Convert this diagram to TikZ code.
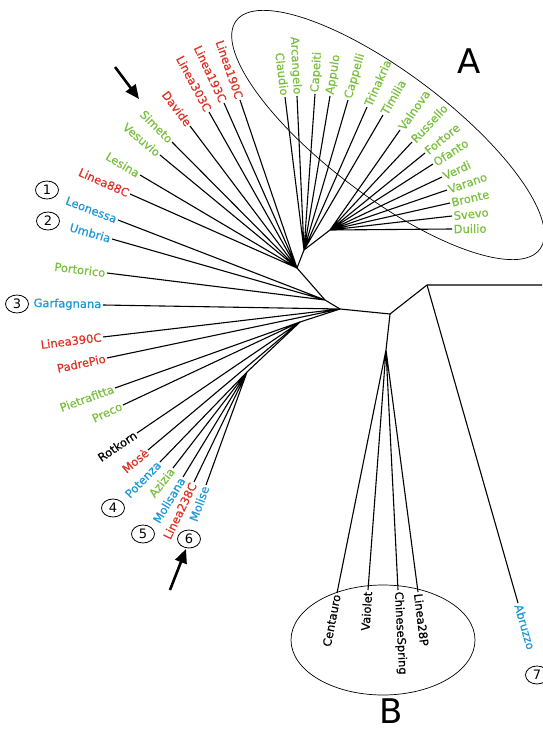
\documentclass[tikz,border=0pt]{standalone}
\usepackage{fontspec}
\setmainfont{DejaVu Sans}
\newfontfamily\leaffont[FakeBold=0.6]{DejaVu Sans}
\usetikzlibrary{arrows.meta,shapes.geometric}
\definecolor{lgreen}{RGB}{122,192,62}
\definecolor{lred}{RGB}{222,50,38}
\definecolor{lblue}{RGB}{28,152,214}
\tikzset{edge/.style={line width=1.1pt},
    lblL/.style={anchor=east,inner sep=1.5pt,font=\leaffont\fontsize{11.5}{12}\selectfont},
    lblR/.style={anchor=west,inner sep=1.5pt,font=\leaffont\fontsize{11.5}{12}\selectfont},
    num/.style={ellipse,draw,line width=0.8pt,minimum width=23pt,minimum height=18pt,inner sep=0pt,font=\fontsize{13}{13}\selectfont},
    grp/.style={ellipse,draw,line width=0.7pt,inner sep=0pt},
    big/.style={font=\fontsize{34}{34}\selectfont},
    pointer/.style={-{Triangle[length=14pt,width=12pt]},line width=2.6pt}}

\begin{document}
\begin{tikzpicture}[x=1pt,y=-1pt]
        \useasboundingbox (0,0) rectangle (542,733);
        % groups
        \node[grp,minimum width=380pt,minimum height=124pt,rotate=-37] (grpA) at (388,135) {};
        \node[grp,minimum width=184pt,minimum height=110pt] (grpB) at (383,640) {};
        \node[big] (labA) at (469,61) {A};
        \node[big] (labB) at (391,711) {B};
        % inner nodes
        \coordinate (n0) at (340,309);
        \coordinate (n1) at (390,314);
        \coordinate (n2) at (427,285);
        \coordinate (rgt) at (542,285);
        \coordinate (hb) at (386,350);
        \coordinate (l1) at (325,300);
        \coordinate (l2) at (297,268);
        \coordinate (a1) at (304,250);
        \coordinate (a2) at (330,230);
        \coordinate (d1) at (300,322);
        \coordinate (d2) at (247,372);
        % left leaves
        \node[lblL,rotate=-71,lred] (l190) at (240,100) {Linea190C};
        \node[lblL,rotate=-65,lred] (l193) at (224,103) {Linea193C};
        \node[lblL,rotate=-62,lred] (l303) at (209,112) {Linea303C};
        \node[lblL,rotate=-53,lred] (dav) at (190,126) {Davide};
        \node[lblL,rotate=-45,lgreen] (sim) at (172,142) {Simeto};
        \node[lblL,rotate=-40,lgreen] (ves) at (160,155) {Vesuvio};
        \node[lblL,rotate=-31,lgreen] (les) at (140,175) {Lesina};
        \node[lblL,rotate=-24,lred] (l88) at (130,194) {Linea88C};
        \node[lblL,rotate=-21,lblue] (leo) at (118,220) {Leonessa};
        \node[lblL,rotate=-16,lblue] (umb) at (112,239) {Umbria};
        \node[lblL,rotate=-7,lgreen] (por) at (107,273) {Portorico};
        \node[lblL,rotate=-1,lblue] (gar) at (103,305) {Garfagnana};
        \node[lblL,rotate=7,lred] (l390) at (103,337) {Linea390C};
        \node[lblL,rotate=12,lred] (pad) at (107,358) {PadrePio};
        \node[lblL,rotate=20,lgreen] (pie) at (115,388) {Pietrafitta};
        \node[lblL,rotate=25,lgreen] (pre) at (123,405) {Preco};
        \node[lblL,rotate=34] (rot) at (137,433) {Rotkorn};
        \node[lblL,rotate=40,lred] (mos) at (148,450) {Mosè};
        \node[lblL,rotate=46,lblue] (pot) at (160,462) {Potenza};
        \node[lblL,rotate=52,lgreen] (azi) at (173,468) {Azizia};
        \node[lblL,rotate=59,lblue] (mna) at (183,477) {Molisana};
        \node[lblL,rotate=64,lred] (l238) at (194,482) {Linea238C};
        \node[lblL,rotate=70,lblue] (mol) at (206,485) {Molise};
        % group A leaves
        \node[lblL,rotate=-83,lgreen] (cla) at (285,97) {Claudio};
        \node[lblL,rotate=-87,lgreen] (arc) at (297,96) {Arcangelo};
        \node[lblR,rotate=86,lgreen] (cap) at (315,94) {Capeiti};
        \node[lblR,rotate=81,lgreen] (app) at (330,96) {Appulo};
        \node[lblR,rotate=74,lgreen] (cpl) at (348,100) {Cappelli};
        \node[lblR,rotate=66,lgreen] (tri) at (367,107) {Trinakria};
        \node[lblR,rotate=60,lgreen] (tim) at (383,115) {Timilia};
        \node[lblR,rotate=55,lgreen] (val) at (400,130) {Valnova};
        \node[lblR,rotate=47,lgreen] (rus) at (412,142) {Russello};
        \node[lblR,rotate=39,lgreen] (for) at (425,153) {Fortore};
        \node[lblR,rotate=33,lgreen] (ofa) at (433,164) {Ofanto};
        \node[lblR,rotate=25,lgreen] (ver) at (442,177) {Verdi};
        \node[lblR,rotate=19,lgreen] (var) at (447,190) {Varano};
        \node[lblR,rotate=13,lgreen] (bro) at (450,203) {Bronte};
        \node[lblR,rotate=6,lgreen] (sve) at (452,216) {Svevo};
        \node[lblR,rotate=1,lgreen] (dui) at (452,229) {Duilio};
        % group B leaves and Abruzzo
        \node[lblL,rotate=79] (cen) at (337,593) {Centauro};
        \node[lblL,rotate=86] (vai) at (368,590) {Vaiolet};
        \node[lblR,rotate=-87] (chi) at (398,590) {ChineseSpring};
        \node[lblR,rotate=-83] (l28) at (418,592) {Linea28P};
        \node[lblR,rotate=-74,lblue] (abr) at (518,603) {Abruzzo};
        % circled numbers
        \node[num] (c1) at (47,190) {1};
        \node[num] (c2) at (48,221) {2};
        \node[num] (c3) at (17,304) {3};
        \node[num] (c4) at (113,508) {4};
        \node[num] (c5) at (143,534) {5};
        \node[num] (c6) at (189,539) {6};
        \node[num] (c7) at (537,675) {7};
        % backbone
        \draw[edge] (n0) -- (l1) -- (l2) -- (a1) -- (a2);
        \draw[edge] (n0) -- (d1) -- (d2);
        \draw[edge] (n0) -- (n1) -- (n2) -- (rgt);
        \draw[edge] (n1) -- (hb);
        \draw[edge] (n2) -- (abr.west);
        % branches to leaves
        \draw[edge] (l2) -- (l190.east) (l2) -- (l193.east) (l2) -- (l303.east)
            (l2) -- (dav.east) (l2) -- (sim.east) (l2) -- (ves.east)
            (l2) -- (les.east) (l2) -- (l88.east);
        \draw[edge] (l1) -- (leo.east) (l1) -- (umb.east) (l1) -- (por.east);
        \draw[edge] (n0) -- (gar.east) (n0) -- (l390.east) (n0) -- (pad.east);
        \draw[edge] (d1) -- (pie.east) (d1) -- (pre.east) (d1) -- (rot.east) (d1) -- (mos.east);
        \draw[edge] (d2) -- (pot.east) (d2) -- (azi.east) (d2) -- (mna.east)
            (d2) -- (l238.east) (d2) -- (mol.east);
        \draw[edge] (a1) -- (cla.east) (a1) -- (arc.east) (a1) -- (cap.west)
            (a1) -- (app.west) (a1) -- (cpl.west) (a1) -- (tri.west) (a1) -- (tim.west);
        \draw[edge] (a2) -- (val.west) (a2) -- (rus.west) (a2) -- (for.west)
            (a2) -- (ofa.west) (a2) -- (ver.west) (a2) -- (var.west)
            (a2) -- (bro.west) (a2) -- (sve.west) (a2) -- (dui.west);
        \draw[edge] (hb) -- (cen.east) (hb) -- (vai.east) (hb) -- (chi.west) (hb) -- (l28.west);
        % pointers
        \coordinate (p1s) at (115,67);
        \coordinate (p1e) at (139,99);
        \coordinate (p2s) at (170,590);
        \coordinate (p2e) at (186,549);
        \draw[pointer] (p1s) -- (p1e);
        \draw[pointer] (p2s) -- (p2e);
    \end{tikzpicture}
\end{document}
